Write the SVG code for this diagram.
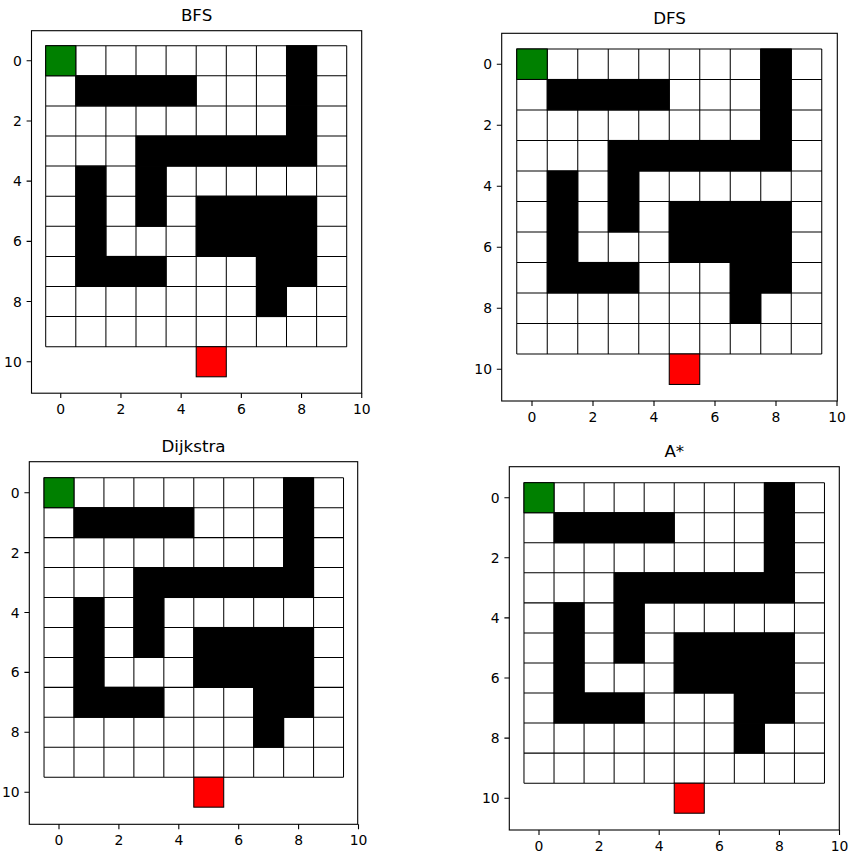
<svg xmlns="http://www.w3.org/2000/svg" xmlns:xlink="http://www.w3.org/1999/xlink" width="856" height="861" viewBox="0 0 856 861">
<style>
.bg{fill:#fff}
.frame{fill:none;stroke:#000;stroke-width:1.1}
.tick{stroke:#000;stroke-width:1.1;fill:none}
.lbl{font-family:"DejaVu Sans","Liberation Sans",sans-serif;font-size:13.9px;fill:#000}
.xl{text-anchor:middle}
.yl{text-anchor:end}
.title{font-family:"DejaVu Sans","Liberation Sans",sans-serif;font-size:16.7px;text-anchor:middle;fill:#000}
.grid{fill:none;stroke:#000;stroke-width:0.034}
.wall{fill:#000;stroke:#000;stroke-width:0.034}
.start{fill:#008000;stroke:#000;stroke-width:0.034}
.goal{fill:#ff0000;stroke:#000;stroke-width:0.034}
</style>
<defs>
<g id="maze">
<rect x="-0.5" y="-0.5" width="10" height="10" fill="#fff"/>
<path class="grid" d="M-0.5 -0.5V9.5M0.5 -0.5V9.5M1.5 -0.5V9.5M2.5 -0.5V9.5M3.5 -0.5V9.5M4.5 -0.5V9.5M5.5 -0.5V9.5M6.5 -0.5V9.5M7.5 -0.5V9.5M8.5 -0.5V9.5M9.5 -0.5V9.5M-0.5 -0.5H9.5M-0.5 0.5H9.5M-0.5 1.5H9.5M-0.5 2.5H9.5M-0.5 3.5H9.5M-0.5 4.5H9.5M-0.5 5.5H9.5M-0.5 6.5H9.5M-0.5 7.5H9.5M-0.5 8.5H9.5M-0.5 9.5H9.5"/>
<rect class="wall" x="7.5" y="-0.5" width="1" height="1"/>
<rect class="wall" x="0.5" y="0.5" width="4" height="1"/>
<rect class="wall" x="7.5" y="0.5" width="1" height="1"/>
<rect class="wall" x="7.5" y="1.5" width="1" height="1"/>
<rect class="wall" x="2.5" y="2.5" width="6" height="1"/>
<rect class="wall" x="0.5" y="3.5" width="1" height="1"/>
<rect class="wall" x="2.5" y="3.5" width="1" height="1"/>
<rect class="wall" x="0.5" y="4.5" width="1" height="1"/>
<rect class="wall" x="2.5" y="4.5" width="1" height="1"/>
<rect class="wall" x="4.5" y="4.5" width="4" height="1"/>
<rect class="wall" x="0.5" y="5.5" width="1" height="1"/>
<rect class="wall" x="4.5" y="5.5" width="4" height="1"/>
<rect class="wall" x="0.5" y="6.5" width="3" height="1"/>
<rect class="wall" x="6.5" y="6.5" width="2" height="1"/>
<rect class="wall" x="6.5" y="7.5" width="1" height="1"/>
<rect class="start" x="-0.5" y="-0.5" width="1" height="1"/>
<rect class="goal" x="4.5" y="9.5" width="1" height="1"/>
</g>
</defs>
<rect class="bg" x="0" y="0" width="856" height="861"/>

<g id="bfs">
<use xlink:href="#maze" href="#maze" transform="translate(60.75,60.75) scale(30.1)"/>
<rect class="frame" x="31.5" y="30.7" width="330.2" height="362.5"/>
<path class="tick" d="M60.75 393.2v4.9M120.95 393.2v4.9M181.15 393.2v4.9M241.35 393.2v4.9M301.55 393.2v4.9M361.75 393.2v4.9M31.5 60.75h-4.9M31.5 120.95h-4.9M31.5 181.15h-4.9M31.5 241.35h-4.9M31.5 301.55h-4.9M31.5 361.75h-4.9"/>
<g class="lbl xl"><text x="60.75" y="413.7">0</text><text x="120.95" y="413.7">2</text><text x="181.15" y="413.7">4</text><text x="241.35" y="413.7">6</text><text x="301.55" y="413.7">8</text><text x="361.75" y="413.7">10</text></g>
<g class="lbl yl"><text x="21.8" y="65.75">0</text><text x="21.8" y="125.95">2</text><text x="21.8" y="186.15">4</text><text x="21.8" y="246.35">6</text><text x="21.8" y="306.55">8</text><text x="21.8" y="366.75">10</text></g>
<text class="title" x="196.6" y="21.3">BFS</text>
</g>

<g id="dfs">
<use xlink:href="#maze" href="#maze" transform="translate(532,64.2) scale(30.5)"/>
<rect class="frame" x="501.7" y="33.3" width="335.6" height="367.7"/>
<path class="tick" d="M532 401v4.9M593 401v4.9M654 401v4.9M715 401v4.9M776 401v4.9M837 401v4.9M501.7 64.2h-4.9M501.7 125.2h-4.9M501.7 186.2h-4.9M501.7 247.2h-4.9M501.7 308.2h-4.9M501.7 369.2h-4.9"/>
<g class="lbl xl"><text x="532" y="421.5">0</text><text x="593" y="421.5">2</text><text x="654" y="421.5">4</text><text x="715" y="421.5">6</text><text x="776" y="421.5">8</text><text x="837" y="421.5">10</text></g>
<g class="lbl yl"><text x="492" y="69.2">0</text><text x="492" y="130.2">2</text><text x="492" y="191.2">4</text><text x="492" y="252.2">6</text><text x="492" y="313.2">8</text><text x="492" y="374.2">10</text></g>
<text class="title" x="669.5" y="24">DFS</text>
</g>

<g id="dijkstra">
<use xlink:href="#maze" href="#maze" transform="translate(59,492.7) scale(29.95)"/>
<rect class="frame" x="29.3" y="461.7" width="328.4" height="362.6"/>
<path class="tick" d="M59 824.3v4.9M118.9 824.3v4.9M178.8 824.3v4.9M238.7 824.3v4.9M298.6 824.3v4.9M358.5 824.3v4.9M29.3 492.7h-4.9M29.3 552.6h-4.9M29.3 612.5h-4.9M29.3 672.4h-4.9M29.3 732.3h-4.9M29.3 792.2h-4.9"/>
<g class="lbl xl"><text x="59" y="844.8">0</text><text x="118.9" y="844.8">2</text><text x="178.8" y="844.8">4</text><text x="238.7" y="844.8">6</text><text x="298.6" y="844.8">8</text><text x="358.5" y="844.8">10</text></g>
<g class="lbl yl"><text x="19.6" y="497.7">0</text><text x="19.6" y="557.6">2</text><text x="19.6" y="617.5">4</text><text x="19.6" y="677.4">6</text><text x="19.6" y="737.3">8</text><text x="19.6" y="797.2">10</text></g>
<text class="title" x="193.5" y="452.3">Dijkstra</text>
</g>

<g id="astar">
<use xlink:href="#maze" href="#maze" transform="translate(539,497.7) scale(30.05)"/>
<rect class="frame" x="509.3" y="466.7" width="330" height="363.3"/>
<path class="tick" d="M539 830v4.9M599.1 830v4.9M659.2 830v4.9M719.3 830v4.9M779.4 830v4.9M839.5 830v4.9M509.3 497.7h-4.9M509.3 557.8h-4.9M509.3 617.9h-4.9M509.3 678h-4.9M509.3 738.1h-4.9M509.3 798.2h-4.9"/>
<g class="lbl xl"><text x="539" y="850.5">0</text><text x="599.1" y="850.5">2</text><text x="659.2" y="850.5">4</text><text x="719.3" y="850.5">6</text><text x="779.4" y="850.5">8</text><text x="839.5" y="850.5">10</text></g>
<g class="lbl yl"><text x="499.6" y="502.7">0</text><text x="499.6" y="562.8">2</text><text x="499.6" y="622.9">4</text><text x="499.6" y="683">6</text><text x="499.6" y="743.1">8</text><text x="499.6" y="803.2">10</text></g>
<text class="title" x="674.3" y="457.3">A*</text>
</g>
</svg>
